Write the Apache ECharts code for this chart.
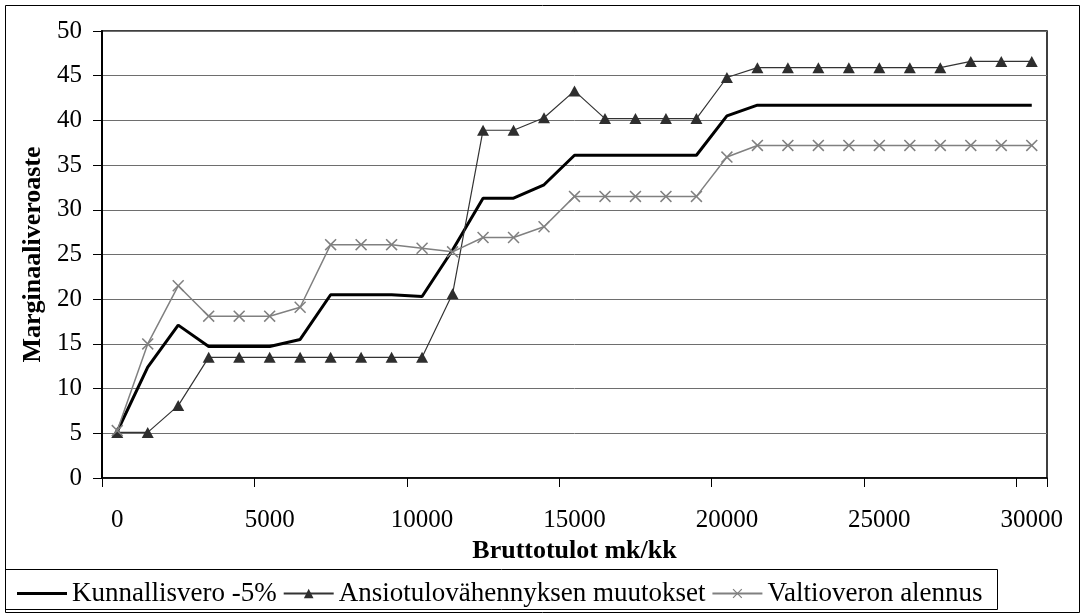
<!DOCTYPE html>
<html>
<head>
<meta charset="utf-8">
<script src="https://cdn.jsdelivr.net/npm/echarts@6/dist/echarts.min.js"></script>
<style>
html,body{margin:0;padding:0;background:#fff;}
#chart{width:1085px;height:615px;}
</style>
</head>
<body>
<div id="chart"></div>
<script>
// Categories: gross income mk/month
const categories = ['0','1000','2000','3000','4000','5000','6000','7000','8000','9000','10000',
  '11000','12000','13000','14000','15000','16000','17000','18000','19000','20000',
  '21000','22000','23000','24000','25000','26000','27000','28000','29000','30000'];

const seriesNames = ['Kunnallisvero -5%', 'Ansiotulovähennyksen muutokset', 'Valtioveron alennus'];

const kunnallisvero = [5.2,12.4,17.1,14.7,14.7,14.7,15.5,20.5,20.5,20.5,20.3,25.5,31.3,31.3,32.8,
  36.1,36.1,36.1,36.1,36.1,40.5,41.7,41.7,41.7,41.7,41.7,41.7,41.7,41.7,41.7,41.7];

const ansiotulo = [5.1,5.1,8.1,13.5,13.5,13.5,13.5,13.5,13.5,13.5,13.5,20.6,38.9,38.9,40.3,
  43.3,40.2,40.2,40.2,40.2,44.8,45.9,45.9,45.9,45.9,45.9,45.9,45.9,46.6,46.6,46.6];

const valtio = [5.3,15.0,21.5,18.1,18.1,18.1,19.1,26.1,26.1,26.1,25.7,25.3,26.9,26.9,28.1,
  31.5,31.5,31.5,31.5,31.5,35.9,37.2,37.2,37.2,37.2,37.2,37.2,37.2,37.2,37.2,37.2];

const xTitle = 'Bruttotulot mk/kk';
const yTitle = 'Marginaaliveroaste';

const FONT = 'Liberation Serif';
const crossPath = 'path://M0,0.9L0.9,0L5,4.1L9.1,0L10,0.9L5.9,5L10,9.1L9.1,10L5,5.9L0.9,10L0,9.1L4.1,5Z';
// plain line legend icon (tiny invisible corners keep the bounding box 12 high)
const lineIcon = 'path://M0,0L0.01,0L0,0.01Z M0,4.6L50,4.6L50,7.4L0,7.4Z M0,12L0.01,12L0,11.99Z';

const chart = echarts.init(document.getElementById('chart'), null, {renderer: 'canvas'});

chart.setOption({
  backgroundColor: '#fff',
  animation: false,
  textStyle: {fontFamily: FONT, color: '#000'},
  grid: {left: 102, top: 31, right: 38, bottom: 137, show: true, borderColor: '#000', borderWidth: 1.5},
  xAxis: {
    type: 'category',
    data: categories,
    boundaryGap: true,
    name: xTitle,
    nameLocation: 'middle',
    nameGap: 59,
    nameTextStyle: {fontFamily: FONT, fontWeight: 'bold', fontSize: 26, color: '#000'},
    axisLine: {lineStyle: {color: '#000', width: 1.5}},
    axisTick: {show: true, interval: 4, length: 9, lineStyle: {color: '#000'}},
    axisLabel: {interval: 4, margin: 30, fontFamily: FONT, fontSize: 25, color: '#000'},
    splitLine: {show: false}
  },
  yAxis: {
    type: 'value',
    min: 0, max: 50, interval: 5,
    name: yTitle,
    nameLocation: 'middle',
    nameRotate: 90,
    nameGap: 55,
    nameTextStyle: {fontFamily: FONT, fontWeight: 'bold', fontSize: 26, color: '#000'},
    axisLine: {show: true, lineStyle: {color: '#000', width: 2}},
    axisTick: {show: true, length: 9, lineStyle: {color: '#000'}},
    axisLabel: {margin: 20, fontFamily: FONT, fontSize: 25, color: '#000'},
    splitLine: {show: true, lineStyle: {color: '#6e6e6e', width: 1}}
  },
  legend: {
    data: [
      {name: seriesNames[0], icon: lineIcon},
      {name: seriesNames[1]},
      {name: seriesNames[2]}
    ],
    left: 12,
    top: 575,
    itemWidth: 50,
    itemHeight: 12,
    itemGap: 6,
    textStyle: {fontFamily: FONT, fontSize: 27, color: '#000'}
  },
  graphic: [
    {type: 'rect', shape: {x: 5.5, y: 5.5, width: 1074, height: 607}, style: {fill: 'none', stroke: '#000', lineWidth: 1}, silent: true, z: -1},
    {type: 'rect', shape: {x: 5.5, y: 569.5, width: 992, height: 40}, style: {fill: 'none', stroke: '#000', lineWidth: 1}, silent: true, z: -1}
  ],
  series: [
    {
      name: seriesNames[0], type: 'line', data: kunnallisvero,
      symbol: 'none', showSymbol: false,
      lineStyle: {color: '#000', width: 3},
      itemStyle: {color: '#000'},
      z: 3
    },
    {
      name: seriesNames[1], type: 'line', data: ansiotulo,
      symbol: 'triangle', symbolSize: [12, 11],
      lineStyle: {color: '#333', width: 1.2},
      itemStyle: {color: '#2e2e2e'},
      z: 4
    },
    {
      name: seriesNames[2], type: 'line', data: valtio,
      symbol: crossPath, symbolSize: 12,
      lineStyle: {color: '#808080', width: 1.5},
      itemStyle: {color: '#808080'},
      z: 5
    }
  ]
});
</script>
</body>
</html>
